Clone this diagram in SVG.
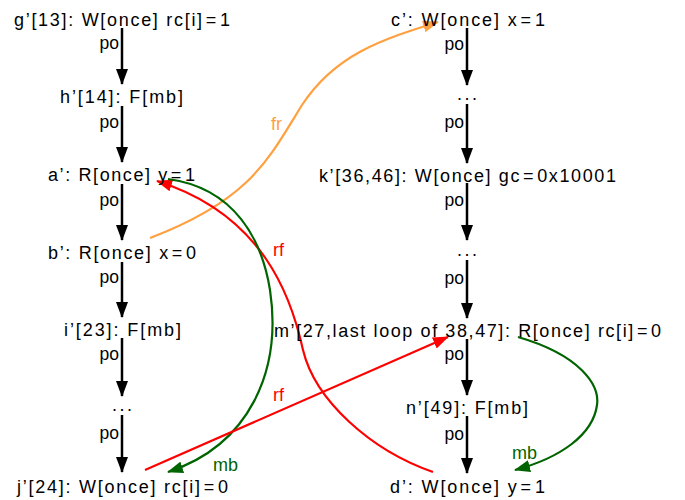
<svg xmlns="http://www.w3.org/2000/svg" width="685" height="500" viewBox="0 0 685 500">
<defs>
<style>
text{font-family:"Liberation Sans","DejaVu Sans",sans-serif;font-size:18px;fill:#000}
.n{text-anchor:middle}
.po{text-anchor:end;font-size:17.5px}
.k{stroke:#000;stroke-width:2.5;fill:none}
.red{stroke:#ff0000;stroke-width:2.2;fill:none}
.grn{stroke:#006400;stroke-width:2.2;fill:none}
.org{stroke:#ffa040;stroke-width:2.2;fill:none}
</style>
<marker id="ak" markerUnits="userSpaceOnUse" markerWidth="16" markerHeight="12" refX="15" refY="6" orient="auto"><path d="M0,0L16,6L0,12z" fill="#000"/></marker>
<marker id="ar" markerUnits="userSpaceOnUse" markerWidth="16" markerHeight="12" refX="15" refY="6" orient="auto"><path d="M0,0L16,6L0,12z" fill="#ff0000"/></marker>
<marker id="ag" markerUnits="userSpaceOnUse" markerWidth="16" markerHeight="12" refX="15" refY="6" orient="auto"><path d="M0,0L16,6L0,12z" fill="#006400"/></marker>
<marker id="ao" markerUnits="userSpaceOnUse" markerWidth="16" markerHeight="12" refX="15" refY="6" orient="auto"><path d="M0,0L16,6L0,12z" fill="#ffa040"/></marker>
</defs>

<g id="connectors">
<line class="k" x1="122" y1="28" x2="122" y2="84" marker-end="url(#ak)"/>
<text class="po" x="119" y="49">po</text>
<line class="k" x1="122" y1="106" x2="122" y2="162" marker-end="url(#ak)"/>
<text class="po" x="119" y="128">po</text>
<line class="k" x1="122" y1="184" x2="122" y2="240" marker-end="url(#ak)"/>
<text class="po" x="119" y="206">po</text>
<line class="k" x1="122" y1="262" x2="122" y2="317" marker-end="url(#ak)"/>
<text class="po" x="119" y="283">po</text>
<line class="k" x1="122" y1="338" x2="122" y2="396" marker-end="url(#ak)"/>
<text class="po" x="119" y="360">po</text>
<line class="k" x1="122" y1="415" x2="122" y2="472" marker-end="url(#ak)"/>
<text class="po" x="119" y="439">po</text>

<line class="k" x1="467" y1="28" x2="467" y2="85" marker-end="url(#ak)"/>
<text class="po" x="464" y="50">po</text>
<line class="k" x1="467" y1="104" x2="467" y2="163" marker-end="url(#ak)"/>
<text class="po" x="464" y="128">po</text>
<line class="k" x1="467" y1="183" x2="467" y2="240" marker-end="url(#ak)"/>
<text class="po" x="464" y="206">po</text>
<line class="k" x1="467" y1="260" x2="467" y2="318" marker-end="url(#ak)"/>
<text class="po" x="464" y="284">po</text>
<line class="k" x1="467" y1="339" x2="467" y2="395" marker-end="url(#ak)"/>
<text class="po" x="464" y="360">po</text>
<line class="k" x1="467" y1="416" x2="467" y2="473" marker-end="url(#ak)"/>
<text class="po" x="464" y="440">po</text>

<path class="org" d="M150,238 C250,200 268,160 302,105 C335,55 380,40 438,22" marker-end="url(#ao)"/>
<text x="271" y="130" style="fill:#ffa040">fr</text>

<path class="red" d="M433,472 C370,450 315,400 303,350 C292,300 265,215 157,181" marker-end="url(#ar)"/>
<text x="273" y="256" style="fill:#ff0000">rf</text>

<path class="grn" d="M168,179 C235,188 262,240 270,290 C282,370 250,445 168,472" marker-end="url(#ag)"/>
<text x="213" y="471" style="fill:#006400">mb</text>

<path class="red" d="M145,470 L448,337" marker-end="url(#ar)"/>
<text x="273" y="401" style="fill:#ff0000">rf</text>

<path class="grn" d="M518,337 C580,355 600,385 597,405 C593,435 560,458 515,470" marker-end="url(#ag)"/>
<text x="512" y="459" style="fill:#006400">mb</text>
</g>

<g id="g13"><text class="n" x="122" y="26" textLength="216" lengthAdjust="spacing">g’[13]: W[once] rc[i]<tspan dx="2">=</tspan><tspan dx="2">1</tspan></text></g>
<g id="h14"><text class="n" x="121.5" y="103" textLength="123" lengthAdjust="spacing">h’[14]: F[mb]</text></g>
<g id="a"><text class="n" x="121.5" y="181" textLength="147" lengthAdjust="spacing">a’: R[once] y<tspan dx="2">=</tspan><tspan dx="2">1</tspan></text></g>
<g id="b"><text class="n" x="122" y="259" textLength="148" lengthAdjust="spacing">b’: R[once] x<tspan dx="2">=</tspan><tspan dx="2">0</tspan></text></g>
<g id="i23"><text class="n" x="122.5" y="336" textLength="117" lengthAdjust="spacing">i’[23]: F[mb]</text></g>
<g id="dots1"><text class="n" x="122" y="411" textLength="20" lengthAdjust="spacing">...</text></g>
<g id="j24"><text class="n" x="122.5" y="493" textLength="211" lengthAdjust="spacing">j’[24]: W[once] rc[i]<tspan dx="2">=</tspan><tspan dx="2">0</tspan></text></g>

<g id="c"><text class="n" x="468" y="26" textLength="154" lengthAdjust="spacing">c’: W[once] x<tspan dx="2">=</tspan><tspan dx="2">1</tspan></text></g>
<g id="dots2"><text class="n" x="467" y="100" textLength="20" lengthAdjust="spacing">...</text></g>
<g id="k36"><text class="n" x="467.5" y="182" textLength="297" lengthAdjust="spacing">k’[36,46]: W[once] gc<tspan dx="2">=</tspan><tspan dx="2">0x10001</tspan></text></g>
<g id="dots3"><text class="n" x="467" y="256" textLength="20" lengthAdjust="spacing">...</text></g>
<g id="m27"><text class="n" x="467.5" y="337" textLength="387" lengthAdjust="spacing">m’[27,last loop of 38,47]: R[once] rc[i]<tspan dx="2">=</tspan><tspan dx="2">0</tspan></text></g>
<g id="n49"><text class="n" x="467" y="414" textLength="122" lengthAdjust="spacing">n’[49]: F[mb]</text></g>
<g id="d"><text class="n" x="467.5" y="493" textLength="155" lengthAdjust="spacing">d’: W[once] y<tspan dx="2">=</tspan><tspan dx="2">1</tspan></text></g>
</svg>
